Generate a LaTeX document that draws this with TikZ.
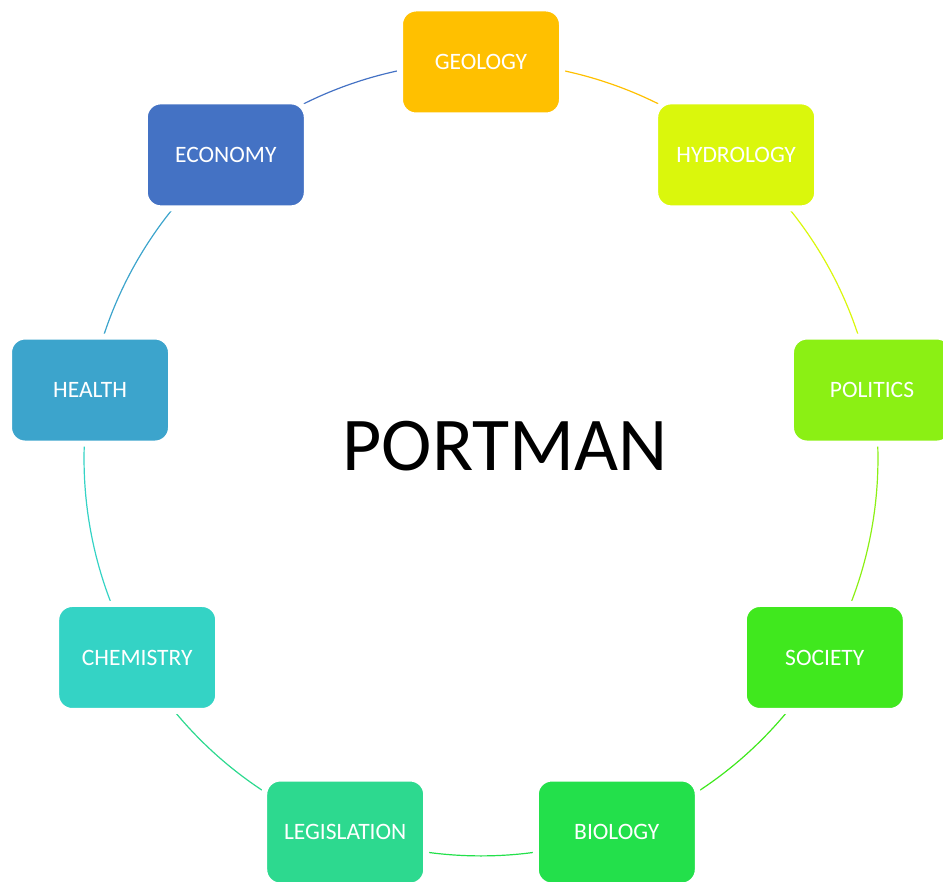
\documentclass[tikz,border=0pt]{standalone}
\usepackage{fontspec}
\setmainfont{Carlito}
\usetikzlibrary{backgrounds}
\definecolor{cgeo}{HTML}{FFC000}
\definecolor{chyd}{HTML}{DAF70C}
\definecolor{cpol}{HTML}{8BF014}
\definecolor{csoc}{HTML}{40E81E}
\definecolor{cbio}{HTML}{23E04B}
\definecolor{cleg}{HTML}{2DD98F}
\definecolor{cche}{HTML}{34D3C5}
\definecolor{chea}{HTML}{3CA4CC}
\definecolor{ceco}{HTML}{4472C4}
\begin{document}
\begin{tikzpicture}[x=1pt,y=1pt,
  box/.style={draw=white, line width=6pt, minimum width=162pt, minimum height=107pt,
    rounded corners=16pt, inner sep=0pt, text=white, font=\fontsize{23.5}{27}\selectfont},
  ring/.style={line width=1.2pt, bend left=20, looseness=0.878}]
\useasboundingbox (0,0) rectangle (943,882);
\coordinate (c) at (481,423);
\path (c) ++(90:397)  node[box, fill=cgeo] (geo) {GEOLOGY};
\path (c) ++(50:397)  node[box, fill=chyd] (hyd) {HYDROLOGY};
\path (c) ++(10:397)  node[box, fill=cpol] (pol) {POLITICS};
\path (c) ++(-30:397) node[box, fill=csoc] (soc) {SOCIETY};
\path (c) ++(-70:397) node[box, fill=cbio] (bio) {BIOLOGY};
\path (c) ++(-110:397) node[box, fill=cleg] (leg) {LEGISLATION};
\path (c) ++(-150:397) node[box, fill=cche] (che) {CHEMISTRY};
\path (c) ++(170:397) node[box, fill=chea] (hea) {HEALTH};
\path (c) ++(130:397) node[box, fill=ceco] (eco) {ECONOMY};
\node[anchor=base, font=\fontsize{76}{80}\selectfont, inner sep=0pt] (title) at (505,411) {PORTMAN};
\begin{scope}[on background layer]
\draw[ring, cgeo] (geo.center) to (hyd.center);
\draw[ring, chyd] (hyd.center) to (pol.center);
\draw[ring, cpol] (pol.center) to (soc.center);
\draw[ring, csoc] (soc.center) to (bio.center);
\draw[ring, cbio] (bio.center) to (leg.center);
\draw[ring, cleg] (leg.center) to (che.center);
\draw[ring, cche] (che.center) to (hea.center);
\draw[ring, chea] (hea.center) to (eco.center);
\draw[ring, ceco] (eco.center) to (geo.center);
\end{scope}
\end{tikzpicture}
\end{document}
